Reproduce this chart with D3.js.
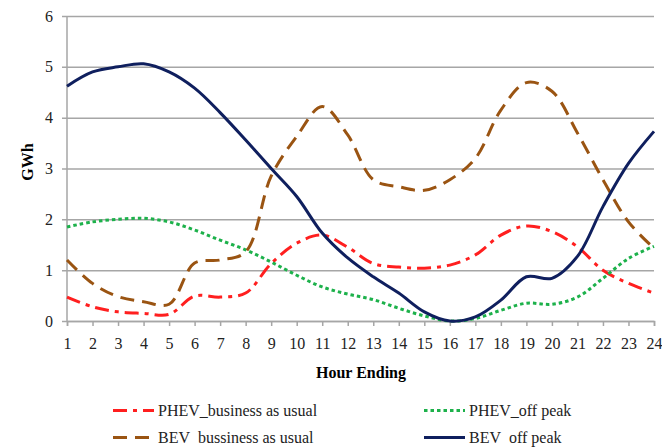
<!DOCTYPE html>
<html>
<head>
<meta charset="utf-8">
<script src="https://cdn.jsdelivr.net/npm/d3@7"></script>
<style>
  body { margin: 0; background: #fff; }
  svg { display: block; font-family: "Liberation Serif", "Times New Roman", serif; }
</style>
</head>
<body>
<div id="viz"></div>
<script>
const WIDTH = 662, HEIGHT = 447;
const MARGIN = {top: 16, right: 8, bottom: 126, left: 67};

// hours 1..24
const hours = d3.range(1, 25);
const yTicks = [0, 1, 2, 3, 4, 5, 6];

// GWh per hour
const phevBusiness = [0.47, 0.28, 0.18, 0.15, 0.13, 0.49, 0.47, 0.55, 1.13, 1.53, 1.69, 1.45,
                      1.13, 1.06, 1.04, 1.10, 1.30, 1.69, 1.87, 1.76, 1.46, 1.00, 0.74, 0.55];
const phevOffPeak = [1.85, 1.95, 2.00, 2.02, 1.95, 1.79, 1.59, 1.40, 1.16, 0.90, 0.67, 0.53,
                     0.42, 0.25, 0.10, 0.00, 0.05, 0.21, 0.35, 0.33, 0.47, 0.84, 1.23, 1.47];
const bevBusiness = [1.20, 0.74, 0.48, 0.38, 0.33, 1.14, 1.20, 1.36, 2.85, 3.63, 4.22, 3.66,
                     2.78, 2.64, 2.57, 2.78, 3.20, 4.15, 4.69, 4.52, 3.70, 2.78, 1.95, 1.43];
const bevOffPeak = [4.62, 4.90, 5.00, 5.06, 4.90, 4.58, 4.10, 3.56, 3.00, 2.45, 1.73, 1.24,
                    0.87, 0.55, 0.18, 0.00, 0.08, 0.41, 0.87, 0.84, 1.27, 2.25, 3.10, 3.73];

const series = [
  {name: "PHEV_business as usual", values: phevBusiness, color: "#ff1f1f", dash: "14,6,4,6"},
  {name: "PHEV_off peak", values: phevOffPeak, color: "#1db14b", dash: "3.5,3"},
  {name: "BEV\u00a0\u00a0bussiness as usual", values: bevBusiness, color: "#9a5412", dash: "14,8"},
  {name: "BEV\u00a0\u00a0off peak", values: bevOffPeak, color: "#0f1f5e", dash: null}
];

const svg = d3.select("#viz").append("svg")
  .attr("width", WIDTH).attr("height", HEIGHT);

const innerW = WIDTH - MARGIN.left - MARGIN.right;
const innerH = HEIGHT - MARGIN.top - MARGIN.bottom;

const x = d3.scalePoint().domain(hours).range([0, innerW]);
const y = d3.scaleLinear().domain([0, 6]).range([innerH, 0]);

const g = svg.append("g").attr("transform", `translate(${MARGIN.left},${MARGIN.top})`);

// gridlines + y axis
const yAxis = g.append("g")
  .call(d3.axisLeft(y).tickValues(yTicks).tickSize(-innerW).tickPadding(14).tickFormat(d3.format("d")));
yAxis.select(".domain").remove();
yAxis.selectAll(".tick line").attr("x1", -5).attr("stroke", "#a6a6a6").attr("stroke-width", 1.5);
yAxis.selectAll("text").attr("font-size", 16).attr("fill", "#222")
  .attr("font-family", "Liberation Serif, serif");

// left axis line
g.append("line").attr("x1", 0).attr("x2", 0).attr("y1", 0).attr("y2", innerH)
  .attr("stroke", "#a6a6a6").attr("stroke-width", 1.5);

// x axis
const xAxis = g.append("g").attr("transform", `translate(0,${innerH})`)
  .call(d3.axisBottom(x).tickSize(5).tickPadding(12));
xAxis.select(".domain").attr("stroke", "#a6a6a6").attr("stroke-width", 1.5);
xAxis.selectAll(".tick line").attr("stroke", "#a6a6a6").attr("stroke-width", 1.5);
xAxis.selectAll("text").attr("font-size", 16).attr("fill", "#222")
  .attr("font-family", "Liberation Serif, serif");

// lines
const line = d3.line()
  .x((d, i) => x(hours[i]))
  .y(d => y(d))
  .curve(d3.curveCatmullRom.alpha(0.5));

g.selectAll("path.series")
  .data(series)
  .join("path")
  .attr("class", "series")
  .attr("fill", "none")
  .attr("stroke", d => d.color)
  .attr("stroke-width", 3)
  .attr("stroke-dasharray", d => d.dash)
  .attr("d", d => line(d.values));

// axis titles
svg.append("text")
  .attr("transform", "translate(33,162) rotate(-90)")
  .attr("text-anchor", "middle")
  .attr("font-weight", "bold")
  .attr("font-size", 16)
  .text("GWh");

svg.append("text")
  .attr("x", 361).attr("y", 378)
  .attr("text-anchor", "middle")
  .attr("font-weight", "bold")
  .attr("font-size", 16)
  .text("Hour Ending");

// legend
const legendPos = [
  {lx: 113, ly: 416},
  {lx: 424, ly: 416},
  {lx: 113, ly: 443},
  {lx: 424, ly: 443}
];
const legend = svg.append("g");
series.forEach((s, i) => {
  const p = legendPos[i];
  legend.append("line")
    .attr("x1", p.lx).attr("x2", p.lx + 41)
    .attr("y1", p.ly - 5.5).attr("y2", p.ly - 5.5)
    .attr("stroke", s.color).attr("stroke-width", 3)
    .attr("stroke-dasharray", s.dash);
  legend.append("text")
    .attr("x", p.lx + 45).attr("y", p.ly)
    .attr("font-size", 16)
    .attr("fill", "#222")
    .text(s.name);
});
</script>
</body>
</html>
